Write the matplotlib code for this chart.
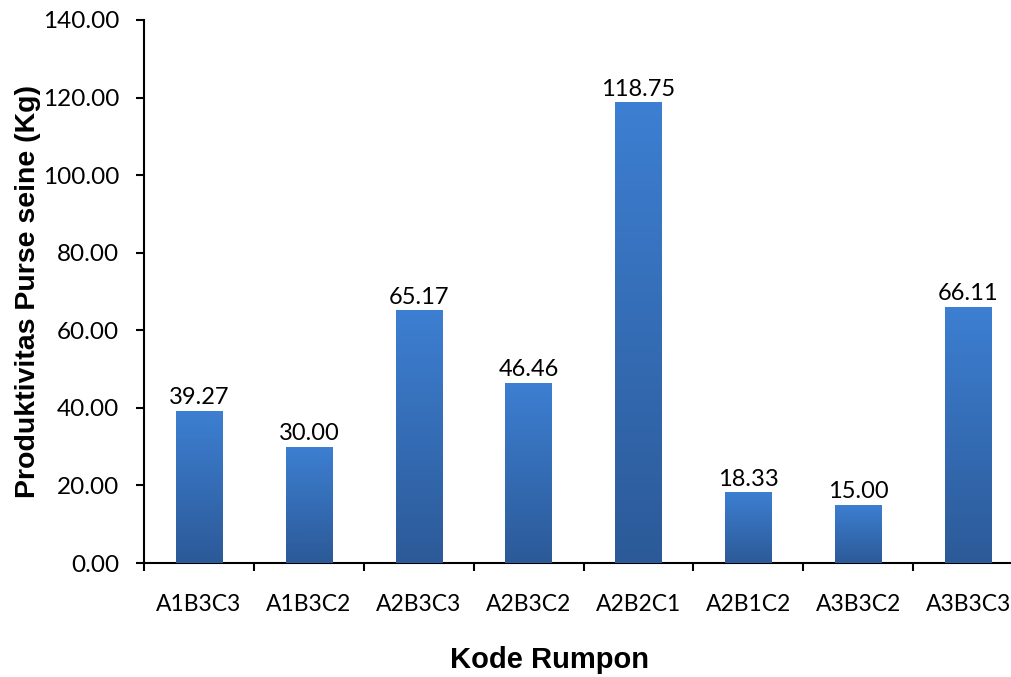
import matplotlib
matplotlib.use("Agg")
import matplotlib.pyplot as plt
import numpy as np
from matplotlib.colors import LinearSegmentedColormap

kode = ["A1B3C3", "A1B3C2", "A2B3C3", "A2B3C2", "A2B2C1", "A2B1C2", "A3B3C2", "A3B3C3"]
produktivitas = [39.27, 30.00, 65.17, 46.46, 118.75, 18.33, 15.00, 66.11]

fig = plt.figure(figsize=(10.11, 6.77), dpi=100)
ax = fig.add_axes([144 / 1011, 114 / 677, 879 / 1011, 543 / 677])

x = np.arange(len(kode))
bars = ax.bar(x, produktivitas, width=0.42, color="#3569b0", zorder=2)

# gradasi warna batang (atas terang, bawah gelap)
cmap = LinearSegmentedColormap.from_list("grad", ["#2c5a98", "#3d7fd2"])
grad = np.linspace(0, 1, 256).reshape(-1, 1)
for b in bars:
    x0, w, h = b.get_x(), b.get_width(), b.get_height()
    im = ax.imshow(grad, cmap=cmap, aspect="auto", origin="lower",
                   extent=[x0, x0 + w, 0, h], zorder=3)
    im.set_clip_path(b)
    ax.text(x0 + w / 2, h + 0.6, f"{h:.2f}", ha="center", va="bottom",
            fontsize=17, family="Lato", zorder=4)

ax.set_xlim(-0.5, len(kode) - 0.5)
ax.set_ylim(0, 140)
ax.set_yticks(np.arange(0, 141, 20))
ax.set_yticklabels([f"{v:.2f}" for v in np.arange(0, 141, 20)], family="Lato", fontsize=17.5)
ax.set_xticks(x)
ax.set_xticklabels(kode, family="Lato", fontsize=16.5)
ax.set_xticks(np.arange(-0.5, len(kode)), minor=True)
ax.tick_params(axis="x", which="major", length=0, pad=22)
ax.tick_params(axis="x", which="minor", length=6, width=1.5, direction="out")
ax.tick_params(axis="y", length=6, width=1.5, direction="out", pad=12)

ax.spines["top"].set_visible(False)
ax.spines["right"].set_visible(False)
ax.spines["left"].set_linewidth(1.5)
ax.spines["bottom"].set_linewidth(1.5)

ax.set_xlabel("Kode Rumpon", family="Liberation Sans", fontweight="bold", fontsize=21, labelpad=23)
ax.xaxis.label.set_x(0.461)
ax.set_ylabel("Produktivitas Purse seine (Kg)", family="Liberation Sans", fontweight="bold", fontsize=20.5, labelpad=1)

plt.savefig("out.png", dpi=100)
